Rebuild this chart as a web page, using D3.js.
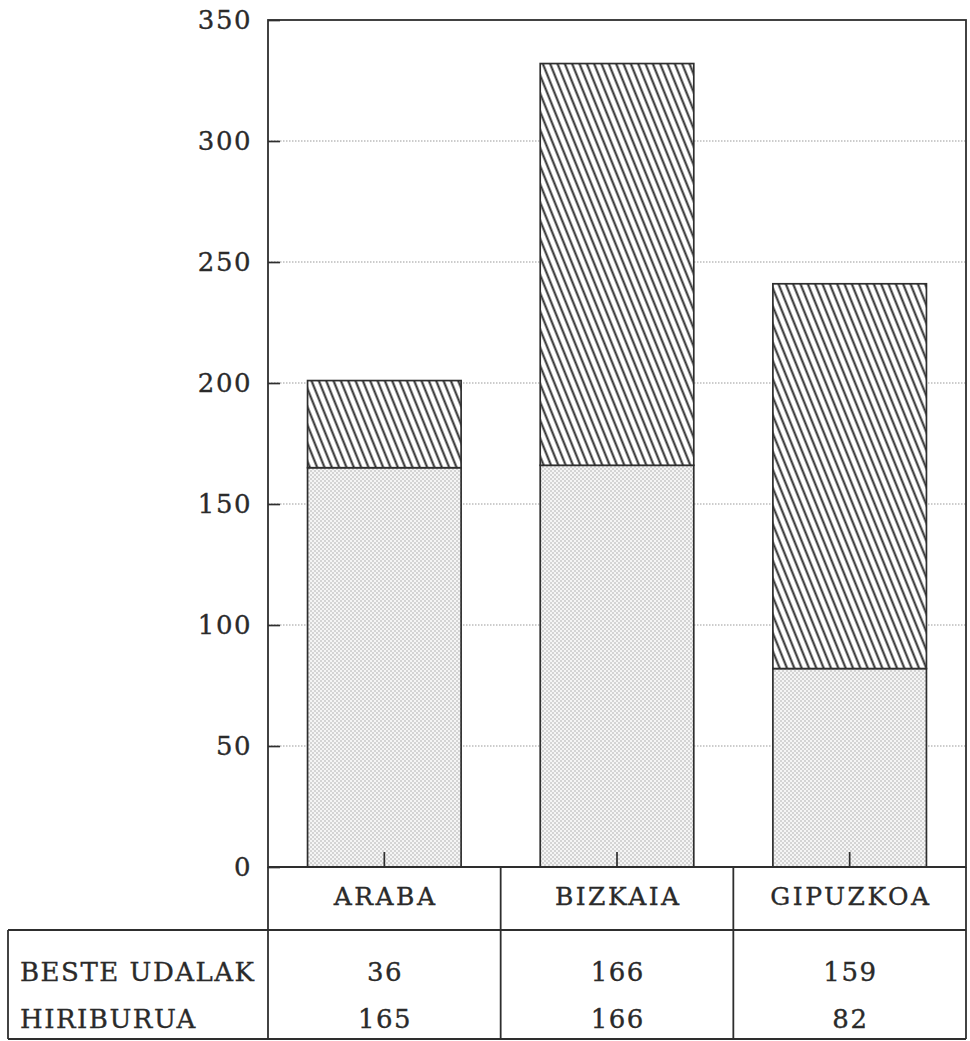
<!DOCTYPE html>
<html>
<head>
<meta charset="utf-8">
<script src="https://cdn.jsdelivr.net/npm/d3@7"></script>
<style>
  html, body { margin: 0; padding: 0; background: #ffffff; }
  svg { display: block; }
  text { font-family: "DejaVu Serif", "Liberation Serif", serif; fill: #2a2a2a; }
</style>
</head>
<body>
<svg id="chart" width="970" height="1041"></svg>
<script>
// ---- data ----
const categories = ["ARABA", "BIZKAIA", "GIPUZKOA"];
const hiriburua = [165, 166, 82];        // bottom segment (dotted)
const besteUdalak = [36, 166, 159];      // top segment (hatched)
const rowLabels = ["BESTE UDALAK", "HIRIBURUA"];
const yTickValues = [0, 50, 100, 150, 200, 250, 300, 350];

// ---- layout ----
const W = 970, H = 1041;
const plotLeft = 268, plotRight = 966, plotTop = 20, plotBottom = 867;
const headerBottom = 930, tableBottom = 1039, tableLeft = 8;
const row1Y = 981, row2Y = 1028;
const ink = "#2e2e2e";
const fontSize = 26, ls = 1.5;

const svg = d3.select("#chart");
svg.append("rect").attr("width", W).attr("height", H).attr("fill", "#fff");

const defs = svg.append("defs");
// hatch pattern (\\\)
const hatch = defs.append("pattern")
  .attr("id", "hatch").attr("patternUnits", "userSpaceOnUse")
  .attr("width", 6.8).attr("height", 6.8)
  .attr("patternTransform", "rotate(-22)");
hatch.append("rect").attr("width", 6.8).attr("height", 6.8).attr("fill", "#fff");
hatch.append("line").attr("x1", 3.4).attr("x2", 3.4).attr("y1", 0).attr("y2", 6.8)
  .attr("stroke", "#2a2a2a").attr("stroke-width", 2);
// dotted stipple pattern
const dots = defs.append("pattern")
  .attr("id", "dots").attr("patternUnits", "userSpaceOnUse")
  .attr("width", 4).attr("height", 4);
dots.append("rect").attr("width", 4).attr("height", 4).attr("fill", "#f5f5f5");
dots.append("circle").attr("cx", 1).attr("cy", 1).attr("r", 0.8).attr("fill", "#aaaaaa");
dots.append("circle").attr("cx", 3).attr("cy", 3).attr("r", 0.8).attr("fill", "#aaaaaa");

// ---- scales ----
const x = d3.scaleBand().domain(categories).range([plotLeft, plotRight])
  .paddingInner(0.34).paddingOuter(0.17);
const y = d3.scaleLinear().domain([0, 350]).range([plotBottom, plotTop]);

// ---- gridlines ----
svg.append("g").selectAll("line")
  .data(yTickValues.filter(v => v > 0 && v < 350))
  .join("line")
  .attr("x1", plotLeft).attr("x2", plotRight)
  .attr("y1", d => y(d)).attr("y2", d => y(d))
  .attr("stroke", "#9a9a9a").attr("stroke-width", 1.2)
  .attr("stroke-dasharray", "1.5,1.5");

// ---- stacked bars ----
const stackData = categories.map((c, i) => ({ cat: c, HIRIBURUA: hiriburua[i], BESTE: besteUdalak[i] }));
const stacked = d3.stack().keys(["HIRIBURUA", "BESTE"])(stackData);
const fills = { HIRIBURUA: "url(#dots)", BESTE: "url(#hatch)" };

svg.append("g").selectAll("g")
  .data(stacked).join("g")
  .attr("fill", d => fills[d.key])
  .selectAll("rect")
  .data(d => d).join("rect")
  .attr("x", d => x(d.data.cat))
  .attr("width", x.bandwidth())
  .attr("y", d => y(d[1]))
  .attr("height", d => y(d[0]) - y(d[1]))
  .attr("stroke", ink).attr("stroke-width", 1.7);

function styleText(sel) {
  sel.attr("font-family", "DejaVu Serif").attr("font-size", fontSize)
    .attr("letter-spacing", ls).attr("fill", "#2a2a2a")
    .attr("stroke", "#2a2a2a").attr("stroke-width", 0.35);
}

// ---- y axis ----
const yAxis = svg.append("g")
  .attr("transform", `translate(${plotLeft},0)`)
  .call(d3.axisLeft(y).tickValues(yTickValues).tickSize(-12).tickPadding(16));
yAxis.select(".domain").remove();
yAxis.selectAll(".tick line").attr("stroke", ink).attr("stroke-width", 1.7);
yAxis.selectAll(".tick text").call(styleText);

// ---- x axis (ticks inside, labels in header row) ----
const xAxis = svg.append("g")
  .attr("transform", `translate(0,${plotBottom})`)
  .call(d3.axisBottom(x).tickSize(-15).tickSizeOuter(0).tickPadding(20));
xAxis.select(".domain").remove();
xAxis.selectAll(".tick line").attr("stroke", ink).attr("stroke-width", 1.7);
xAxis.selectAll(".tick text").call(styleText);
xAxis.selectAll(".tick text").attr("font-size", 25).attr("letter-spacing", 2.5).attr("dx", 1.25);

// ---- frame & table lines ----
const frame = svg.append("g").attr("stroke", ink).attr("stroke-width", 1.8).attr("fill", "none");
frame.append("rect").attr("x", plotLeft).attr("y", plotTop)
  .attr("width", plotRight - plotLeft).attr("height", plotBottom - plotTop);
const colEdges = [plotLeft, x(categories[1]) - x.step() * x.paddingInner() / 2,
  x(categories[2]) - x.step() * x.paddingInner() / 2, plotRight];
frame.append("line").attr("x1", plotLeft).attr("x2", plotRight).attr("y1", plotBottom).attr("y2", plotBottom);
frame.append("line").attr("x1", tableLeft).attr("x2", plotRight).attr("y1", headerBottom).attr("y2", headerBottom);
frame.append("line").attr("x1", tableLeft).attr("x2", plotRight).attr("y1", tableBottom).attr("y2", tableBottom);
frame.append("line").attr("x1", tableLeft).attr("x2", tableLeft).attr("y1", headerBottom).attr("y2", tableBottom);
colEdges.forEach(cx => {
  frame.append("line").attr("x1", cx).attr("x2", cx).attr("y1", plotBottom).attr("y2", tableBottom);
});

// ---- table text ----
const tbl = svg.append("g");
tbl.append("text").attr("x", 20).attr("y", row1Y).text(rowLabels[0]).call(styleText);
tbl.append("text").attr("x", 20).attr("y", row2Y).text(rowLabels[1]).call(styleText);
tbl.selectAll("text.v1").data(besteUdalak).join("text").attr("class", "v1")
  .attr("x", (d, i) => x(categories[i]) + x.bandwidth() / 2 + ls / 2)
  .attr("y", row1Y).attr("text-anchor", "middle").text(d => d).call(styleText);
tbl.selectAll("text.v2").data(hiriburua).join("text").attr("class", "v2")
  .attr("x", (d, i) => x(categories[i]) + x.bandwidth() / 2 + ls / 2)
  .attr("y", row2Y).attr("text-anchor", "middle").text(d => d).call(styleText);
</script>
</body>
</html>
